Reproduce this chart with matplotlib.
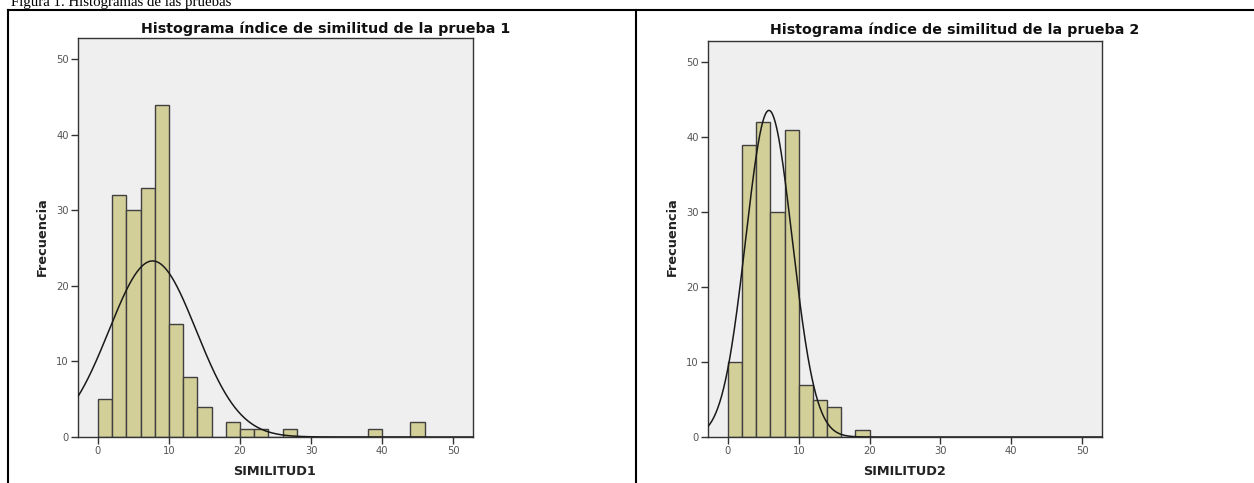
import numpy as np
import matplotlib
matplotlib.use("Agg")
import matplotlib.pyplot as plt
from matplotlib.lines import Line2D

# Histogram data (bins of width 2 starting at 0)
bins1 = [0, 2, 4, 6, 8, 10, 12, 14, 16, 18, 20, 22, 24, 26, 28, 30, 32, 34, 36, 38, 40, 42, 44]
counts1 = [5, 32, 30, 33, 44, 15, 8, 4, 0, 2, 1, 1, 0, 1, 0, 0, 0, 0, 0, 1, 0, 0, 2]
bins2 = [0, 2, 4, 6, 8, 10, 12, 14, 16, 18]
counts2 = [10, 39, 42, 30, 41, 7, 5, 4, 0, 1]

# fitted normal curve parameters (mean, std dev)
mean1, sd1 = 7.7, 6.13
mean2, sd2 = 5.8, 3.28
bin_width = 2

titles = ["Histograma índice de similitud de la prueba 1",
          "Histograma índice de similitud de la prueba 2"]
xlabels = ["SIMILITUD1", "SIMILITUD2"]
caption = "Figura 1. Histogramas de las pruebas"

W, H = 1254, 483
fig = plt.figure(figsize=(W / 100, H / 100), dpi=100)
fig.patch.set_facecolor("white")


def px_axes(x0, y0, x1, y1):
    return fig.add_axes([x0 / W, 1 - y1 / H, (x1 - x0) / W, (y1 - y0) / H])


def draw_hist(ax, bins, counts, mean, sd):
    ax.set_facecolor("#efefef")
    ax.bar(bins, counts, width=bin_width, align="edge", color="#d3cf98",
           edgecolor="#404040", linewidth=1.0, zorder=2)
    xs = np.linspace(-2.8, 52.8, 600)
    n = sum(counts)
    ys = n * bin_width / (sd * np.sqrt(2 * np.pi)) * np.exp(-(xs - mean) ** 2 / (2 * sd ** 2))
    ax.plot(xs, ys, color="#1a1a1a", linewidth=1.1, zorder=3)
    ax.set_xlim(-2.8, 52.8)
    ax.set_ylim(0, 52.8)
    ax.set_xticks([0, 10, 20, 30, 40, 50])
    ax.set_yticks([0, 10, 20, 30, 40, 50])
    ax.tick_params(direction="out", length=5, width=1, color="#333333",
                   labelsize=7.2, labelcolor="#555555", pad=1.5)
    for s in ax.spines.values():
        s.set_color("#333333")
        s.set_linewidth(1.0)


ax1 = px_axes(78, 38, 473, 437)
draw_hist(ax1, bins1, counts1, mean1, sd1)
ax2 = px_axes(708, 41, 1102, 437)
draw_hist(ax2, bins2, counts2, mean2, sd2)

# titles and axis labels
fig.text(326 / W, 1 - 33 / H, titles[0], ha="center", va="baseline",
         fontsize=10.3, fontweight="bold", color="#111111")
fig.text(955 / W, 1 - 34 / H, titles[1], ha="center", va="baseline",
         fontsize=10.3, fontweight="bold", color="#111111")
for x in [42.5, 672]:
    fig.text(x / W, 1 - 237 / H, "Frecuencia", rotation=90, ha="center", va="center",
             fontsize=9.3, fontweight="bold", color="#222222")
fig.text(275 / W, 1 - 471.5 / H, xlabels[0], ha="center", va="center",
         fontsize=9.3, fontweight="bold", color="#222222")
fig.text(905 / W, 1 - 471.5 / H, xlabels[1], ha="center", va="center",
         fontsize=9.3, fontweight="bold", color="#222222")

# caption (cut at the top edge, as in the source) and table borders
fig.text(11 / W, 1 - 6 / H, caption, ha="left", va="baseline",
         fontsize=10.7, family="Liberation Serif", color="black")
lw = 1.5
fig.add_artist(Line2D([8 / W, 1], [1 - 9.5 / H, 1 - 9.5 / H], color="black", linewidth=lw))
fig.add_artist(Line2D([8 / W, 8 / W], [0, 1 - 9.5 / H], color="black", linewidth=lw))
fig.add_artist(Line2D([636 / W, 636 / W], [0, 1 - 9.5 / H], color="black", linewidth=lw))

fig.savefig("out.png", dpi=100)
